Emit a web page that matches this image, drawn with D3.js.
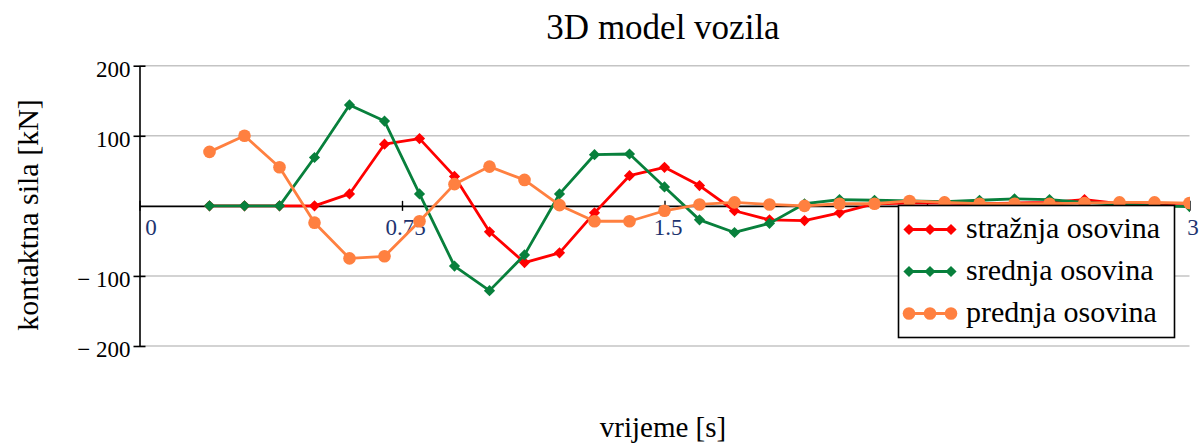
<!DOCTYPE html>
<html>
<head>
<meta charset="utf-8">
<script src="https://cdn.jsdelivr.net/npm/d3@7"></script>
<style>
  body { margin: 0; background: #fff; }
  svg { display: block; }
  text { font-family: "Liberation Serif", "Times New Roman", serif; fill: #000; }
</style>
</head>
<body>
<svg id="chart" width="1204" height="447"></svg>
<script>
// Time samples [s]
const time = [0.2, 0.3, 0.4, 0.5, 0.6, 0.7, 0.8, 0.9, 1.0, 1.1, 1.2, 1.3, 1.4, 1.5, 1.6,
              1.7, 1.8, 1.9, 2.0, 2.1, 2.2, 2.3, 2.4, 2.5, 2.6, 2.7, 2.8, 2.9, 3.0];

// Contact force per axle [kN]
const straznja = [0, 0, 0, 0, 17, 88, 96, 42, -37, -81, -67, -10, 43, 55, 29,
                  -7, -20, -21, -10, 3, 4, 4, 3, 4, 5, 9, 3, 1, 0];
const srednja  = [0, 0, 0, 69, 144, 121, 17, -86, -121, -70, 17, 73, 74, 27, -20,
                  -38, -25, 3, 9, 8, 7, 6, 8, 10, 9, 5, 2, 0, -1];
const prednja  = [77, 100, 55, -24, -75, -72, -22, 31, 56, 37, 1, -22, -22, -7, 2,
                  5, 2, 0, 3, 3, 7, 5, 3, 3, 3, 4, 5, 5, 4];

const seriesNames = ["stražnja osovina", "srednja osovina", "prednja osovina"];
const seriesColors = ["#ff0000", "#08803c", "#ff8040"];
const seriesMarkers = ["diamond", "diamond", "circle"];

const xTickValues = [0, 0.75, 1.5, 2.25, 3];
const xTickLabels = ["0", "0.75", "1.5", "2.25", "3"];
const yTickValues = [-200, -100, 100, 200];
const yTickLabels = ["\u2212 200", "\u2212 100", "100", "200"];

const titleText = "3D model vozila";
const xTitle = "vrijeme [s]";
const yTitle = "kontaktna sila [kN]";

const svg = d3.select("#chart");

const x = d3.scaleLinear().domain([0, 3]).range([139.5, 1189.5]);
const y = d3.scaleLinear().domain([-200, 200]).range([346, 65.7]);

// horizontal grid
svg.append("g")
  .selectAll("line")
  .data(yTickValues)
  .join("line")
  .attr("x1", x(0)).attr("x2", x(3))
  .attr("y1", d => y(d)).attr("y2", d => y(d))
  .attr("stroke", "#c4c4c4")
  .attr("stroke-width", 1.5);

// y axis
const yAxis = d3.axisLeft(y)
  .tickValues(yTickValues)
  .tickSizeInner(6)
  .tickSizeOuter(0)
  .tickPadding(3)
  .tickFormat((d, i) => yTickLabels[i]);
const gy = svg.append("g").attr("transform", `translate(${x(0)},0)`).call(yAxis);
gy.select(".domain").attr("stroke", "#000").attr("stroke-width", 1.6);
gy.selectAll(".tick line").attr("x1", 6).attr("stroke", "#000").attr("stroke-width", 1.6);
gy.selectAll(".tick text")
  .attr("dy", "0.46em")
  .attr("font-size", 23)
  .attr("font-family", "Liberation Serif, serif")
  .style("fill", "#000");

// x axis along zero force
const xAxis = d3.axisBottom(x)
  .tickValues(xTickValues)
  .tickSizeInner(5)
  .tickSizeOuter(0)
  .tickFormat((d, i) => xTickLabels[i]);
const gx = svg.append("g").attr("transform", `translate(0,${y(0)})`).call(xAxis);
gx.select(".domain").attr("stroke", "#000").attr("stroke-width", 1.6);
gx.selectAll(".tick line").attr("y1", -5).attr("stroke", "#000").attr("stroke-width", 1.4);
gx.selectAll(".tick text")
  .attr("y", 29)
  .attr("dy", 0)
  .attr("x", d => d === 0 ? 11 : 3)
  .attr("font-size", 23)
  .attr("font-family", "Liberation Serif, serif")
  .style("fill", "#1e3470");

// clip to plotting area
svg.append("clipPath").attr("id", "plotclip")
  .append("rect")
  .attr("x", x(0)).attr("y", y(200) - 10)
  .attr("width", x(3) - x(0) + 0.5).attr("height", y(-200) - y(200) + 20);

const lineGen = d3.line().x(d => x(d[0])).y(d => y(d[1]));
const diamond = d3.symbol().type(d3.symbolDiamond2).size(80);
const circle = d3.symbol().type(d3.symbolCircle).size(125);

const plot = svg.append("g").attr("clip-path", "url(#plotclip)");
const allSeries = [straznja, srednja, prednja];

allSeries.forEach((vals, k) => {
  const pts = time.map((t, i) => [t, vals[i]]);
  const g = plot.append("g");
  g.append("path")
    .attr("d", lineGen(pts))
    .attr("fill", "none")
    .attr("stroke", seriesColors[k])
    .attr("stroke-width", 2.8)
    .attr("stroke-linejoin", "round");
  g.selectAll("path.m")
    .data(pts)
    .join("path")
    .attr("class", "m")
    .attr("transform", d => `translate(${x(d[0])},${y(d[1])})`)
    .attr("d", seriesMarkers[k] === "circle" ? circle : diamond)
    .attr("fill", seriesColors[k]);
});

// legend
const legend = svg.append("g");
legend.append("rect")
  .attr("x", 898.5).attr("y", 205.5)
  .attr("width", 276).attr("height", 132)
  .attr("fill", "#fff")
  .attr("stroke", "#000")
  .attr("stroke-width", 1.6);

const rowY = [229.5, 271.5, 313.5];
seriesNames.forEach((name, k) => {
  const gy0 = rowY[k];
  legend.append("line")
    .attr("x1", 905).attr("x2", 955)
    .attr("y1", gy0).attr("y2", gy0)
    .attr("stroke", seriesColors[k])
    .attr("stroke-width", 2.8);
  [909, 930, 951].forEach(mx => {
    legend.append("path")
      .attr("transform", `translate(${mx},${gy0})`)
      .attr("d", seriesMarkers[k] === "circle" ? circle() : diamond())
      .attr("fill", seriesColors[k]);
  });
  legend.append("text")
    .attr("x", 966).attr("y", gy0 + 8)
    .attr("font-size", 30)
    .text(name);
});

// titles
svg.append("text")
  .attr("x", 663).attr("y", 39)
  .attr("text-anchor", "middle")
  .attr("font-size", 35)
  .text(titleText);

svg.append("text")
  .attr("x", 663).attr("y", 437)
  .attr("text-anchor", "middle")
  .attr("font-size", 29)
  .text(xTitle);

svg.append("text")
  .attr("transform", "translate(38,215) rotate(-90)")
  .attr("text-anchor", "middle")
  .attr("font-size", 30)
  .text(yTitle);
</script>
</body>
</html>
